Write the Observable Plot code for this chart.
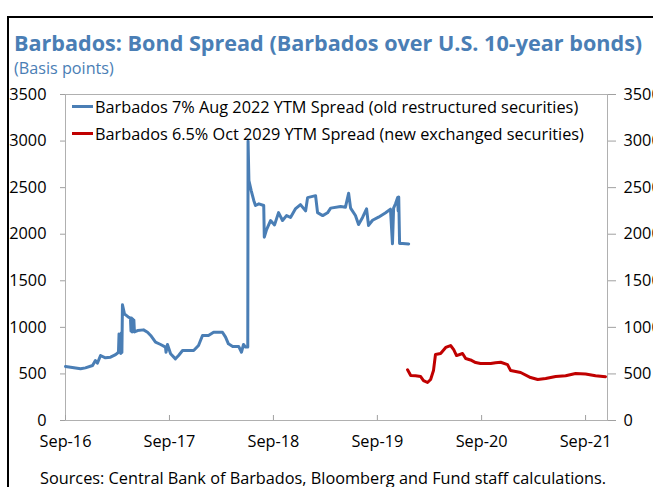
<!DOCTYPE html>
<html><head><meta charset="utf-8">
<script src="https://cdn.jsdelivr.net/npm/d3@7"></script>
<script src="https://cdn.jsdelivr.net/npm/@observablehq/plot@0.6"></script>
<style>
body{margin:0;background:#fff;}
#wrap{position:relative;width:653px;height:487px;overflow:hidden;font-family:"Open Sans",sans-serif;color:#000;}
#frame{position:absolute;left:7px;top:16px;width:700px;height:520px;border-left:2px solid #000;border-top:2px solid #000;}
#title{position:absolute;left:14px;top:28px;font-weight:700;font-size:21.6px;color:#4a7eb5;white-space:nowrap;}
#sub{position:absolute;left:14px;top:57px;font-size:16.2px;color:#4a7eb5;white-space:nowrap;}
#chart{position:absolute;left:0;top:80px;}
#legend{position:absolute;left:72px;top:93px;font-size:16.3px;}
.item{display:flex;align-items:center;height:27px;white-space:nowrap;}
.sw{width:21px;height:3px;margin-right:2px;}
#src{position:absolute;left:40px;top:467px;font-size:16.3px;white-space:nowrap;}
</style></head>
<body>
<div id="wrap">
  <div id="frame"></div>
  <div id="title"></div>
  <div id="sub"></div>
  <div id="chart"></div>
  <div id="legend"></div>
  <div id="src"></div>
</div>
<script>
const titleText = "Barbados: Bond Spread (Barbados over U.S. 10-year bonds)";
const subtitleText = "(Basis points)";
const sourceText = "Sources: Central Bank of Barbados, Bloomberg and Fund staff calculations.";
const seriesNames = [
  "Barbados 7% Aug 2022 YTM Spread (old restructured securities)",
  "Barbados 6.5% Oct 2029 YTM Spread (new exchanged securities)"
];
const seriesColors = ["#4a7eb5", "#c00000"];
const yTicks = [0, 500, 1000, 1500, 2000, 2500, 3000, 3500];
const xTicks = ["2016-09-01","2017-09-01","2018-09-01","2019-09-01","2020-09-01","2021-09-01"];
const xDomain = ["2016-09-01","2021-11-17"];

const oldDates = [
 "2016-09-01","2016-09-19","2016-10-24","2016-11-10","2016-12-05","2016-12-15","2016-12-22","2017-01-02",
 "2017-01-19","2017-02-06","2017-02-24","2017-03-06","2017-03-08","2017-03-10","2017-03-12","2017-03-14",
 "2017-03-16","2017-03-18","2017-03-20","2017-03-27","2017-04-10","2017-04-17","2017-04-19","2017-04-21",
 "2017-04-23","2017-04-25","2017-04-27","2017-04-29","2017-05-01","2017-05-12","2017-06-02","2017-06-16",
 "2017-06-27","2017-07-14","2017-08-01","2017-08-18","2017-08-20","2017-08-25","2017-09-05","2017-09-22",
 "2017-10-03","2017-10-17","2017-11-25","2017-12-12","2017-12-26","2018-01-16","2018-02-03","2018-03-06",
 "2018-03-17","2018-03-27","2018-04-11","2018-05-02","2018-05-12","2018-05-19","2018-05-26","2018-06-03",
 "2018-06-04","2018-06-07","2018-06-15","2018-06-24","2018-06-30","2018-07-12","2018-07-29","2018-07-31",
 "2018-08-08","2018-08-22","2018-09-05","2018-09-19","2018-10-03","2018-10-17","2018-10-31","2018-11-18",
 "2018-12-05","2018-12-23","2018-12-30","2019-01-27","2019-02-03","2019-02-21","2019-03-10","2019-03-21",
 "2019-04-25","2019-05-12","2019-05-23","2019-05-30","2019-06-16","2019-06-27","2019-07-11","2019-07-25",
 "2019-08-01","2019-08-15","2019-09-05","2019-09-30","2019-10-17","2019-10-24","2019-10-28","2019-11-04",
 "2019-11-11","2019-11-13","2019-11-15","2019-11-18","2019-11-29","2019-12-20"
];
const oldValues = [
 580,572,555,565,590,644,615,698,
 673,680,708,733,930,740,900,720,
 940,730,1242,1145,1110,1100,960,1100,
 950,1090,955,1080,950,966,973,948,
 913,841,816,788,733,816,716,662,
 698,751,751,805,913,913,948,948,
 895,823,795,795,733,816,788,788,
 3000,2577,2469,2362,2308,2326,2308,1968,
 2050,2147,2100,2232,2147,2200,2180,2275,
 2318,2250,2393,2414,2232,2200,2230,2280,
 2298,2290,2440,2280,2201,2104,2180,2273,
 2094,2150,2183,2230,2270,1897,2280,2330,
 2393,2250,2400,1900,1900,1895
];
const newDates = [
 "2019-12-16","2019-12-27","2020-01-13","2020-01-31","2020-02-10","2020-02-24","2020-03-06","2020-03-16",
 "2020-03-23","2020-04-10","2020-04-28","2020-05-15","2020-05-26","2020-06-05","2020-06-26","2020-07-07",
 "2020-07-24","2020-08-11","2020-08-28","2020-10-03","2020-10-20","2020-11-07","2020-12-01","2020-12-12",
 "2021-01-16","2021-02-20","2021-03-17","2021-04-14","2021-05-19","2021-06-23","2021-07-28","2021-09-01",
 "2021-10-06","2021-11-10"
];
const newValues = [
 545,483,480,472,429,408,440,536,
 708,719,784,805,760,697,719,665,
 650,622,611,611,620,625,600,536,
 515,461,440,450,472,480,504,500,
 480,470
];

document.getElementById("title").textContent = titleText;
document.getElementById("sub").textContent = subtitleText;
document.getElementById("src").textContent = sourceText;
const leg = document.getElementById("legend");
seriesNames.forEach((n,i)=>{
  const it = document.createElement("div"); it.className="item";
  const sw = document.createElement("span"); sw.className="sw"; sw.style.background=seriesColors[i];
  const tx = document.createElement("span"); tx.textContent = n;
  it.appendChild(sw); it.appendChild(tx); leg.appendChild(it);
});

const parse = d3.utcParse("%Y-%m-%d");
const oldData = oldDates.map((d,i)=>({date:parse(d), v:oldValues[i]}));
const newData = newDates.map((d,i)=>({date:parse(d), v:newValues[i]}));
const fmt = d3.utcFormat("%b-%y");

const chart = Plot.plot({
  width:653, height:380,
  marginLeft:65, marginRight:46, marginTop:14, marginBottom:40,
  style:{fontFamily:"'Open Sans',sans-serif", fontSize:"16.3px", color:"#000", background:"transparent", overflow:"visible"},
  x:{type:"utc", domain:xDomain.map(parse), label:null},
  y:{domain:[0,3500], label:null},
  marks:[
    Plot.frame({stroke:"#b0b0b0"}),
    Plot.axisY(yTicks,{anchor:"left", tickSize:5, tickPadding:14, stroke:"#a0a0a0", tickFormat:d=>String(d), label:null}),
    Plot.axisY(yTicks,{anchor:"right", tickSize:8, tickPadding:8, stroke:"#a0a0a0", tickFormat:d=>String(d), label:null}),
    Plot.axisX(xTicks.map(parse),{anchor:"bottom", tickSize:-5, tickPadding:20, stroke:"#a0a0a0", tickFormat:fmt, label:null}),
    Plot.lineY(oldData,{x:"date", y:"v", stroke:seriesColors[0], strokeWidth:3}),
    Plot.lineY(newData,{x:"date", y:"v", stroke:seriesColors[1], strokeWidth:3})
  ]
});
document.getElementById("chart").appendChild(chart);
</script>
</body></html>
